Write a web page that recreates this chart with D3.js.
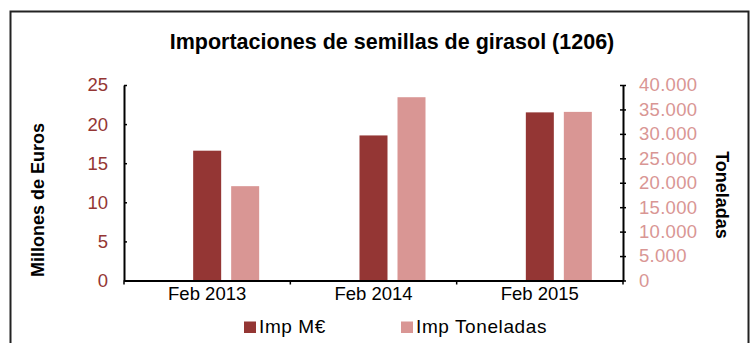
<!DOCTYPE html>
<html>
<head>
<meta charset="utf-8">
<script src="https://cdn.jsdelivr.net/npm/d3@7"></script>
<style>
  html, body { margin: 0; padding: 0; background: #fff; }
  svg { display: block; font-family: "Liberation Sans", Arial, sans-serif; }
</style>
</head>
<body>
<svg id="chart" width="755" height="343"></svg>
<script>
// Chart data
const categories = ["Feb 2013", "Feb 2014", "Feb 2015"];
const impMillones = [16.6, 18.55, 21.5];          // millones de euros (left axis)
const impToneladas = [19300, 37500, 34500];       // toneladas (right axis)
const leftTicks = [0, 5, 10, 15, 20, 25];
const rightTicks = [0, 5000, 10000, 15000, 20000, 25000, 30000, 35000, 40000];
const seriesNames = ["Imp M€", "Imp Toneladas"];

const darkRed = "#943634";
const lightRed = "#D99694";

const svg = d3.select("#chart");

// Outer frame
svg.append("rect")
  .attr("x", 10.5).attr("y", 11.5)
  .attr("width", 738).attr("height", 345)
  .attr("fill", "none").attr("stroke", "#222").attr("stroke-width", 2);

// Title
svg.append("text")
  .attr("x", 392).attr("y", 49)
  .attr("text-anchor", "middle")
  .attr("font-size", 21.5).attr("font-weight", "bold")
  .attr("fill", "#000")
  .text("Importaciones de semillas de girasol (1206)");

const plot = { left: 124, right: 623, top: 85, bottom: 280.5 };

const x = d3.scaleBand().domain(categories).range([plot.left, plot.right]);
const yL = d3.scaleLinear().domain([0, 25]).range([plot.bottom, plot.top]);
const yR = d3.scaleLinear().domain([0, 40000]).range([plot.bottom, plot.top]);

const esLocale = d3.formatLocale({ decimal: ",", thousands: ".", grouping: [3], currency: ["", " €"] });
const fmtR = esLocale.format(",d");

// Bars
const barW = 28;
const g = svg.append("g");
g.selectAll("rect.m")
  .data(categories)
  .join("rect")
  .attr("class", "m")
  .attr("x", d => x(d) + x.bandwidth() / 2 - 14)
  .attr("width", barW)
  .attr("y", (d, i) => yL(impMillones[i]))
  .attr("height", (d, i) => yL(0) - yL(impMillones[i]))
  .attr("fill", darkRed);

g.selectAll("rect.t")
  .data(categories)
  .join("rect")
  .attr("class", "t")
  .attr("x", d => x(d) + x.bandwidth() / 2 + 24)
  .attr("width", barW)
  .attr("y", (d, i) => yR(impToneladas[i]))
  .attr("height", (d, i) => yR(0) - yR(impToneladas[i]))
  .attr("fill", lightRed);

// Left axis (ticks pointing inward)
const axL = svg.append("g")
  .attr("transform", `translate(${plot.left},0)`)
  .call(d3.axisLeft(yL).tickValues(leftTicks).tickSize(-3).tickSizeOuter(0).tickPadding(16));
axL.select(".domain").attr("stroke", "#000").attr("stroke-width", 2);
axL.selectAll(".tick line").attr("stroke", "#000").attr("stroke-width", 1.5);
axL.selectAll(".tick text")
  .attr("font-size", 18.5).attr("fill", darkRed)
  .attr("font-family", "Liberation Sans, Arial, sans-serif");

// Right axis (ticks crossing the line)
const axR = svg.append("g")
  .attr("transform", `translate(${plot.right},0)`)
  .call(d3.axisRight(yR).tickValues(rightTicks).tickFormat(fmtR).tickSize(3).tickSizeOuter(0).tickPadding(13));
axR.select(".domain").attr("stroke", "#000").attr("stroke-width", 2);
axR.selectAll(".tick line").attr("x1", -3).attr("stroke", "#000").attr("stroke-width", 1.5);
axR.selectAll(".tick text")
  .attr("font-size", 18.5).attr("fill", lightRed)
  .attr("letter-spacing", 0.3)
  .attr("font-family", "Liberation Sans, Arial, sans-serif");

// Bottom axis: labels centred in each band, tick marks at band edges
const axB = svg.append("g")
  .attr("transform", `translate(0,${plot.bottom})`)
  .call(d3.axisBottom(x).tickSize(0).tickSizeOuter(0).tickPadding(6));
axB.select(".domain").attr("stroke", "#000").attr("stroke-width", 2);
axB.selectAll(".tick text")
  .attr("font-size", 18.5).attr("fill", "#000")
  .attr("font-family", "Liberation Sans, Arial, sans-serif");
const edges = categories.map(c => x(c)).concat([x.range()[1]]);
axB.selectAll("line.edge")
  .data(edges)
  .join("line")
  .attr("class", "edge")
  .attr("x1", d => d).attr("x2", d => d)
  .attr("y1", 0).attr("y2", 4)
  .attr("stroke", "#000").attr("stroke-width", 1.5);

// Axis titles
svg.append("text")
  .attr("transform", "translate(44,200) rotate(-90)")
  .attr("text-anchor", "middle")
  .attr("font-size", 18).attr("font-weight", "bold")
  .text("Millones de Euros");

svg.append("text")
  .attr("transform", "translate(716,195) rotate(90)")
  .attr("text-anchor", "middle")
  .attr("font-size", 18).attr("font-weight", "bold")
  .text("Toneladas");

// Legend
const legendX = [244, 401];
const legendColors = [darkRed, lightRed];
const lg = svg.append("g");
seriesNames.forEach((name, i) => {
  lg.append("rect")
    .attr("x", legendX[i]).attr("y", 321.5)
    .attr("width", 12).attr("height", 11.5)
    .attr("fill", legendColors[i]);
  lg.append("text")
    .attr("x", legendX[i] + 15).attr("y", 333)
    .attr("font-size", 19).attr("fill", "#000")
    .attr("letter-spacing", 0.6)
    .text(name);
});
</script>
</body>
</html>
